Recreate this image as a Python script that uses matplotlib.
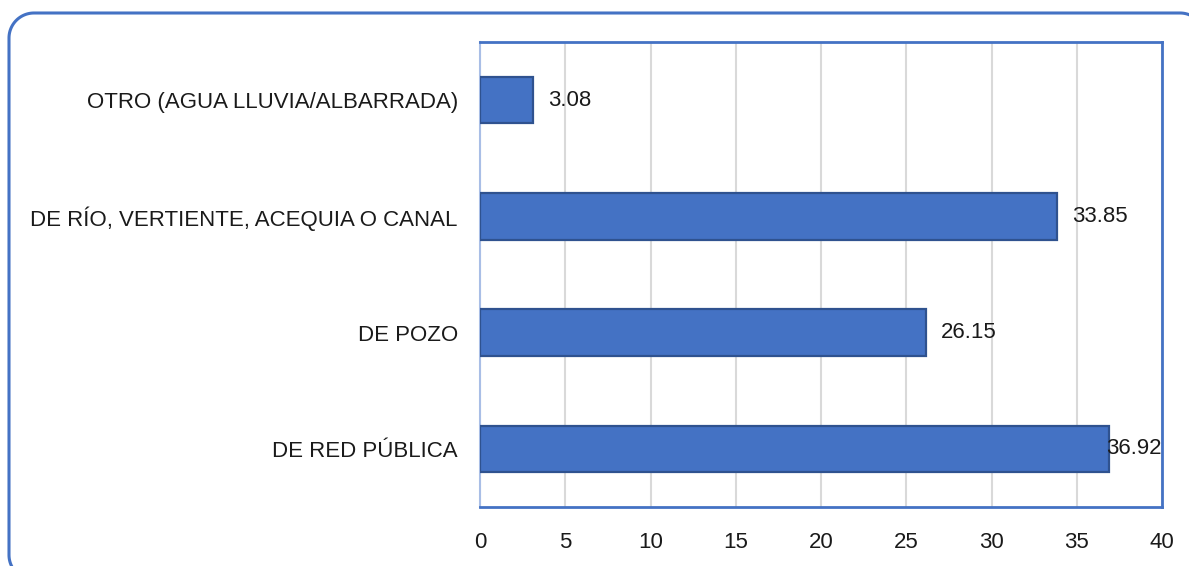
import numpy as np
import matplotlib.pyplot as plt
from matplotlib.lines import Line2D
from matplotlib.transforms import IdentityTransform

categories = ['DE RED PÚBLICA', 'DE POZO', 'DE RÍO, VERTIENTE, ACEQUIA O CANAL',
              'OTRO (AGUA LLUVIA/ALBARRADA)']
values = [36.92, 26.15, 33.85, 3.08]
xticks = [0, 5, 10, 15, 20, 25, 30, 35, 40]

BLUE = '#4472C4'
EDGE = '#2F528F'
FS = 16

plt.rcParams['font.family'] = ['Liberation Sans', 'DejaVu Sans']

W, H = 1189, 566
fig = plt.figure(figsize=(W / 100, H / 100), dpi=100)


# rounded frame as an open line in pixel coords (origin bottom-left),
# so parts running off the canvas don't get closed along its edge
def rounded_frame(left, top, right, bottom, r, n=30):
    corners = [(left + r, H - bottom + r, 1.5 * np.pi, np.pi),
               (left + r, H - top - r, np.pi, 0.5 * np.pi),
               (right - r, H - top - r, 0.5 * np.pi, 0.0),
               (right - r, H - bottom + r, 0.0, -0.5 * np.pi)]
    xs, ys = [], []
    for cx, cy, a0, a1 in corners:
        a = np.linspace(a0, a1, n)
        xs += list(cx + r * np.cos(a))
        ys += list(cy + r * np.sin(a))
    return xs, ys


fx, fy = rounded_frame(9, 13, 1205, 580, 25)
fig.add_artist(Line2D(fx, fy, transform=IdentityTransform(), color=BLUE,
                      linewidth=2.2, solid_joinstyle='round'))

ax = fig.add_axes([480 / W, (H - 507) / H, (1162 - 480) / W, (507 - 42) / H])

y = range(len(categories))
ax.barh(y, values, height=0.4, color=BLUE, edgecolor=EDGE, linewidth=1.6, zorder=3)

ax.set_xlim(0, 40)
ax.set_ylim(-0.5, len(categories) - 0.5)
ax.set_xticks(xticks)
ax.set_yticks(list(y))
ax.set_yticklabels(categories)
ax.tick_params(axis='x', length=0, pad=18, labelsize=FS, colors='#1a1a1a')
ax.tick_params(axis='y', length=0, pad=16, labelsize=FS, colors='#1a1a1a')
ax.grid(axis='x', color='#D9D9D9', linewidth=1.5, zorder=0)

for side in ['top', 'right', 'bottom']:
    ax.spines[side].set_color(BLUE)
    ax.spines[side].set_linewidth(2)
ax.spines['left'].set_color('#A9BEE6')
ax.spines['left'].set_linewidth(1.5)

# value labels; the longest one is pulled back inside the plot area
for i, v in enumerate(values):
    if v > 35:
        ax.text(40, i, f'{v:.2f}', ha='right', va='center', fontsize=FS,
                color='#1a1a1a', zorder=4)
    else:
        ax.annotate(f'{v:.2f}', (v, i), xytext=(11, 0), textcoords='offset points',
                    ha='left', va='center', fontsize=FS, color='#1a1a1a', zorder=4)

fig.savefig('out.png', dpi=100)
